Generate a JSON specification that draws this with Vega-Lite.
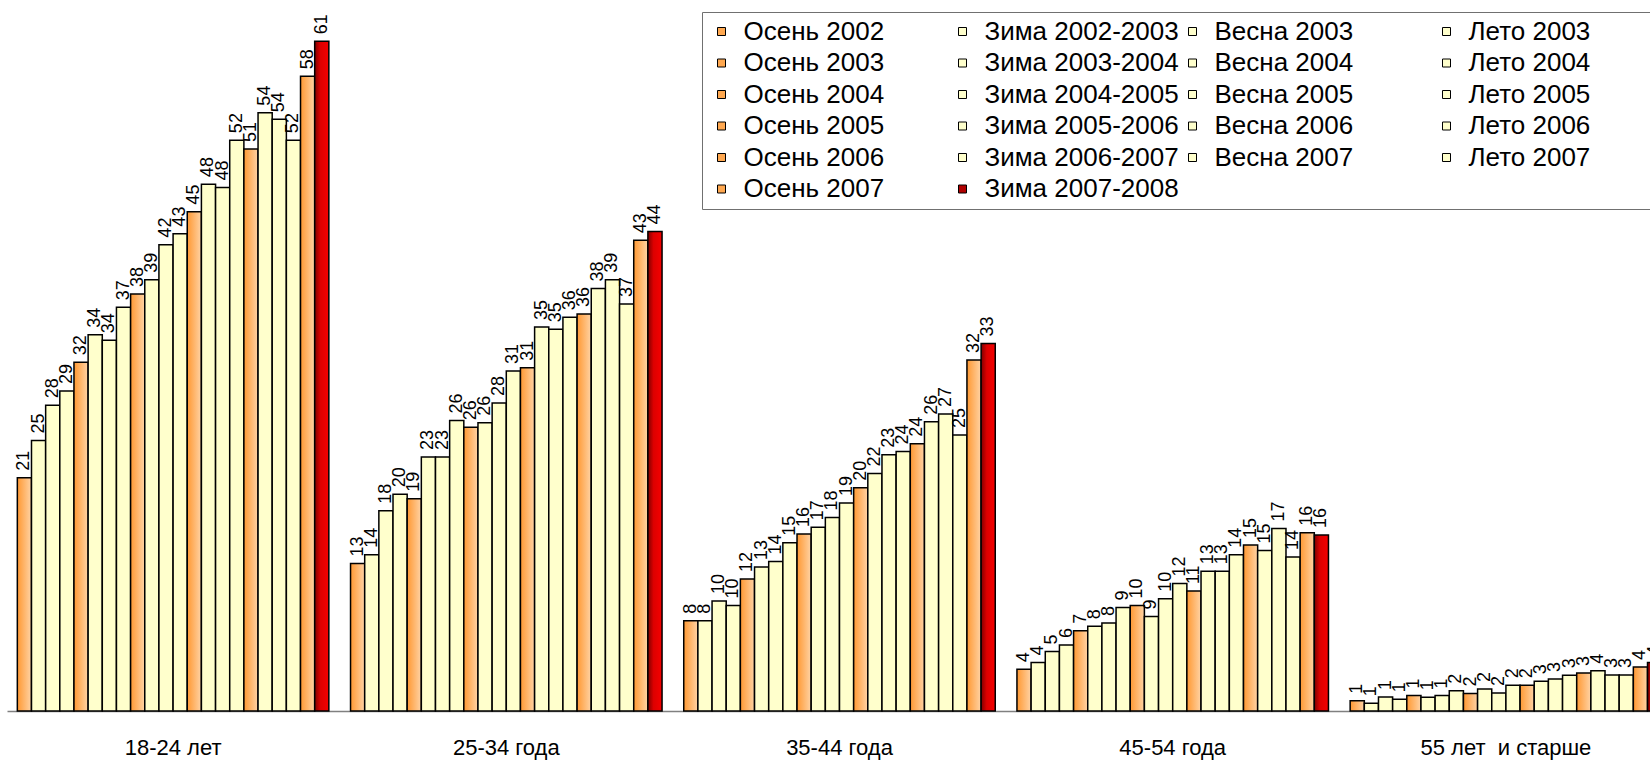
{
  "$schema": "https://vega.github.io/schema/vega-lite/v6.json",
  "width": 1643,
  "height": 711,
  "autosize": {"type": "none"},
  "padding": {"left": 7, "top": 0, "right": 0, "bottom": 49},
  "background": "white",
  "config": {"view": {"stroke": null}, "font": "Liberation Sans"},
  "data": {"values": [
    {"group": "18-24 лет", "series": "Осень 2002", "value": 21.2},
    {"group": "18-24 лет", "series": "Зима 2002-2003", "value": 24.6},
    {"group": "18-24 лет", "series": "Весна 2003", "value": 27.8},
    {"group": "18-24 лет", "series": "Лето 2003", "value": 29.1},
    {"group": "18-24 лет", "series": "Осень 2003", "value": 31.7},
    {"group": "18-24 лет", "series": "Зима 2003-2004", "value": 34.2},
    {"group": "18-24 лет", "series": "Весна 2004", "value": 33.7},
    {"group": "18-24 лет", "series": "Лето 2004", "value": 36.7},
    {"group": "18-24 лет", "series": "Осень 2004", "value": 37.9},
    {"group": "18-24 лет", "series": "Зима 2004-2005", "value": 39.2},
    {"group": "18-24 лет", "series": "Весна 2005", "value": 42.4},
    {"group": "18-24 лет", "series": "Лето 2005", "value": 43.4},
    {"group": "18-24 лет", "series": "Осень 2005", "value": 45.4},
    {"group": "18-24 лет", "series": "Зима 2005-2006", "value": 47.9},
    {"group": "18-24 лет", "series": "Весна 2006", "value": 47.6},
    {"group": "18-24 лет", "series": "Лето 2006", "value": 51.9},
    {"group": "18-24 лет", "series": "Осень 2006", "value": 51.1},
    {"group": "18-24 лет", "series": "Зима 2006-2007", "value": 54.4},
    {"group": "18-24 лет", "series": "Весна 2007", "value": 53.8},
    {"group": "18-24 лет", "series": "Лето 2007", "value": 51.9},
    {"group": "18-24 лет", "series": "Осень 2007", "value": 57.7},
    {"group": "18-24 лет", "series": "Зима 2007-2008", "value": 60.9},

    {"group": "25-34 года", "series": "Осень 2002", "value": 13.4},
    {"group": "25-34 года", "series": "Зима 2002-2003", "value": 14.2},
    {"group": "25-34 года", "series": "Весна 2003", "value": 18.2},
    {"group": "25-34 года", "series": "Лето 2003", "value": 19.7},
    {"group": "25-34 года", "series": "Осень 2003", "value": 19.3},
    {"group": "25-34 года", "series": "Зима 2003-2004", "value": 23.1},
    {"group": "25-34 года", "series": "Весна 2004", "value": 23.1},
    {"group": "25-34 года", "series": "Лето 2004", "value": 26.4},
    {"group": "25-34 года", "series": "Осень 2004", "value": 25.8},
    {"group": "25-34 года", "series": "Зима 2004-2005", "value": 26.2},
    {"group": "25-34 года", "series": "Весна 2005", "value": 28.0},
    {"group": "25-34 года", "series": "Лето 2005", "value": 30.9},
    {"group": "25-34 года", "series": "Осень 2005", "value": 31.2},
    {"group": "25-34 года", "series": "Зима 2005-2006", "value": 34.9},
    {"group": "25-34 года", "series": "Весна 2006", "value": 34.7},
    {"group": "25-34 года", "series": "Лето 2006", "value": 35.8},
    {"group": "25-34 года", "series": "Осень 2006", "value": 36.1},
    {"group": "25-34 года", "series": "Зима 2006-2007", "value": 38.4},
    {"group": "25-34 года", "series": "Весна 2007", "value": 39.2},
    {"group": "25-34 года", "series": "Лето 2007", "value": 37.0},
    {"group": "25-34 года", "series": "Осень 2007", "value": 42.8},
    {"group": "25-34 года", "series": "Зима 2007-2008", "value": 43.6},

    {"group": "35-44 года", "series": "Осень 2002", "value": 8.2},
    {"group": "35-44 года", "series": "Зима 2002-2003", "value": 8.2},
    {"group": "35-44 года", "series": "Весна 2003", "value": 10.0},
    {"group": "35-44 года", "series": "Лето 2003", "value": 9.6},
    {"group": "35-44 года", "series": "Осень 2003", "value": 12.0},
    {"group": "35-44 года", "series": "Зима 2003-2004", "value": 13.1},
    {"group": "35-44 года", "series": "Весна 2004", "value": 13.6},
    {"group": "35-44 года", "series": "Лето 2004", "value": 15.3},
    {"group": "35-44 года", "series": "Осень 2004", "value": 16.1},
    {"group": "35-44 года", "series": "Зима 2004-2005", "value": 16.7},
    {"group": "35-44 года", "series": "Весна 2005", "value": 17.6},
    {"group": "35-44 года", "series": "Лето 2005", "value": 18.9},
    {"group": "35-44 года", "series": "Осень 2005", "value": 20.3},
    {"group": "35-44 года", "series": "Зима 2005-2006", "value": 21.6},
    {"group": "35-44 года", "series": "Весна 2006", "value": 23.3},
    {"group": "35-44 года", "series": "Лето 2006", "value": 23.6},
    {"group": "35-44 года", "series": "Осень 2006", "value": 24.3},
    {"group": "35-44 года", "series": "Зима 2006-2007", "value": 26.3},
    {"group": "35-44 года", "series": "Весна 2007", "value": 27.0},
    {"group": "35-44 года", "series": "Лето 2007", "value": 25.1},
    {"group": "35-44 года", "series": "Осень 2007", "value": 31.9},
    {"group": "35-44 года", "series": "Зима 2007-2008", "value": 33.4},

    {"group": "45-54 года", "series": "Осень 2002", "value": 3.8},
    {"group": "45-54 года", "series": "Зима 2002-2003", "value": 4.4},
    {"group": "45-54 года", "series": "Весна 2003", "value": 5.4},
    {"group": "45-54 года", "series": "Лето 2003", "value": 6.0},
    {"group": "45-54 года", "series": "Осень 2003", "value": 7.3},
    {"group": "45-54 года", "series": "Зима 2003-2004", "value": 7.7},
    {"group": "45-54 года", "series": "Весна 2004", "value": 8.0},
    {"group": "45-54 года", "series": "Лето 2004", "value": 9.4},
    {"group": "45-54 года", "series": "Осень 2004", "value": 9.6},
    {"group": "45-54 года", "series": "Зима 2004-2005", "value": 8.6},
    {"group": "45-54 года", "series": "Весна 2005", "value": 10.2},
    {"group": "45-54 года", "series": "Лето 2005", "value": 11.6},
    {"group": "45-54 года", "series": "Осень 2005", "value": 10.9},
    {"group": "45-54 года", "series": "Зима 2005-2006", "value": 12.7},
    {"group": "45-54 года", "series": "Весна 2006", "value": 12.7},
    {"group": "45-54 года", "series": "Лето 2006", "value": 14.2},
    {"group": "45-54 года", "series": "Осень 2006", "value": 15.1},
    {"group": "45-54 года", "series": "Зима 2006-2007", "value": 14.6},
    {"group": "45-54 года", "series": "Весна 2007", "value": 16.6},
    {"group": "45-54 года", "series": "Лето 2007", "value": 14.0},
    {"group": "45-54 года", "series": "Осень 2007", "value": 16.2},
    {"group": "45-54 года", "series": "Зима 2007-2008", "value": 16.0},

    {"group": "55 лет \u00a0и старше", "series": "Осень 2002", "value": 0.94},
    {"group": "55 лет \u00a0и старше", "series": "Зима 2002-2003", "value": 0.7},
    {"group": "55 лет \u00a0и старше", "series": "Весна 2003", "value": 1.27},
    {"group": "55 лет \u00a0и старше", "series": "Лето 2003", "value": 1.06},
    {"group": "55 лет \u00a0и старше", "series": "Осень 2003", "value": 1.42},
    {"group": "55 лет \u00a0и старше", "series": "Зима 2003-2004", "value": 1.24},
    {"group": "55 лет \u00a0и старше", "series": "Весна 2004", "value": 1.42},
    {"group": "55 лет \u00a0и старше", "series": "Лето 2004", "value": 1.85},
    {"group": "55 лет \u00a0и старше", "series": "Осень 2004", "value": 1.6},
    {"group": "55 лет \u00a0и старше", "series": "Зима 2004-2005", "value": 2.0},
    {"group": "55 лет \u00a0и старше", "series": "Весна 2005", "value": 1.63},
    {"group": "55 лет \u00a0и старше", "series": "Лето 2005", "value": 2.33},
    {"group": "55 лет \u00a0и старше", "series": "Осень 2005", "value": 2.33},
    {"group": "55 лет \u00a0и старше", "series": "Зима 2005-2006", "value": 2.7},
    {"group": "55 лет \u00a0и старше", "series": "Весна 2006", "value": 2.9},
    {"group": "55 лет \u00a0и старше", "series": "Лето 2006", "value": 3.24},
    {"group": "55 лет \u00a0и старше", "series": "Осень 2006", "value": 3.45},
    {"group": "55 лет \u00a0и старше", "series": "Зима 2006-2007", "value": 3.66},
    {"group": "55 лет \u00a0и старше", "series": "Весна 2007", "value": 3.27},
    {"group": "55 лет \u00a0и старше", "series": "Лето 2007", "value": 3.27},
    {"group": "55 лет \u00a0и старше", "series": "Осень 2007", "value": 4.0},
    {"group": "55 лет \u00a0и старше", "series": "Зима 2007-2008", "value": 4.4}
  ]},
  "encoding": {
    "x": {
      "field": "group", "type": "nominal",
      "sort": ["18-24 лет", "25-34 года", "35-44 года", "45-54 года", "55 лет \u00a0и старше"],
      "scale": {"range": [0, 1665], "paddingInner": 0.0651, "paddingOuter": 0.031},
      "axis": {"title": null, "ticks": false, "grid": false, "domainColor": "#808080", "domainWidth": 1.5, "labelFontSize": 22, "labelColor": "black", "labelPadding": 26, "labelAngle": 0, "labelFont": "Liberation Sans"}
    },
    "xOffset": {
      "field": "series", "type": "nominal",
      "sort": ["Осень 2002","Зима 2002-2003","Весна 2003","Лето 2003","Осень 2003","Зима 2003-2004","Весна 2004","Лето 2004","Осень 2004","Зима 2004-2005","Весна 2005","Лето 2005","Осень 2005","Зима 2005-2006","Весна 2006","Лето 2006","Осень 2006","Зима 2006-2007","Весна 2007","Лето 2007","Осень 2007","Зима 2007-2008"],
      "scale": {"paddingInner": 0, "paddingOuter": 0}
    },
    "y": {"field": "value", "type": "quantitative", "scale": {"domain": [0, 64.64], "nice": false}, "axis": null}
  },
  "layer": [
    {
      "mark": {"type": "bar", "stroke": "black", "strokeWidth": 1.5, "opacity": 1},
      "encoding": {
        "color": {
          "condition": [
            {"test": "datum.series === 'Зима 2007-2008'", "value": {"gradient": "linear", "x1": 0, "y1": 0, "x2": 1, "y2": 0, "stops": [{"offset": 0, "color": "#800000"}, {"offset": 0.4, "color": "#DD0000"}, {"offset": 1, "color": "#F50000"}]}},
            {"test": "indexof(datum.series, 'Осень') === 0", "value": {"gradient": "linear", "x1": 0, "y1": 0, "x2": 1, "y2": 0, "stops": [{"offset": 0, "color": "#FF9933"}, {"offset": 1, "color": "#FFD3A5"}]}}
          ],
          "field": "series", "type": "nominal",
          "scale": {
            "domain": ["Осень 2002","Зима 2002-2003","Весна 2003","Лето 2003","Осень 2003","Зима 2003-2004","Весна 2004","Лето 2004","Осень 2004","Зима 2004-2005","Весна 2005","Лето 2005","Осень 2005","Зима 2005-2006","Весна 2006","Лето 2006","Осень 2006","Зима 2006-2007","Весна 2007","Лето 2007","Осень 2007","Зима 2007-2008"],
            "range": ["#FFA850","#FFFFCC","#FFFFCC","#FFFFCC","#FFA850","#FFFFCC","#FFFFCC","#FFFFCC","#FFA850","#FFFFCC","#FFFFCC","#FFFFCC","#FFA850","#FFFFCC","#FFFFCC","#FFFFCC","#FFA850","#FFFFCC","#FFFFCC","#FFFFCC","#FFA850","#B00000"]
          },
          "legend": {
            "title": null, "orient": "none", "legendX": 695, "legendY": 12, "direction": "horizontal",
            "columns": 4, "gridAlign": "each", "columnPadding": 0, "rowPadding": 5.5, "padding": 6.5,
            "symbolType": "square", "symbolSize": 64, "symbolStrokeColor": "black", "symbolStrokeWidth": 1, "symbolOffset": 0, "symbolOpacity": 1,
            "labelFontSize": 26, "labelFont": "Liberation Sans", "labelColor": "black", "labelOffset": 9, "labelLimit": 600,
            "labelExpr": "indexof(datum.label, 'Осень') === 0 ? datum.label + '\u00a0\u00a0\u00a0\u00a0\u00a0\u00a0\u00a0\u00a0\u00a0\u200b' : indexof(datum.label, 'Весна') === 0 ? datum.label + '\u00a0\u00a0\u00a0\u00a0\u00a0\u00a0\u00a0\u00a0\u00a0\u00a0\u00a0\u200b' : indexof(datum.label, 'Лето') === 0 ? datum.label + '\u00a0\u00a0\u00a0\u00a0\u00a0\u00a0\u00a0\u00a0\u200b' : datum.label",
            "strokeColor": "#707070", "fillColor": "white",
            "encode": {"symbols": {"update": {
              "fill": [
                {"test": "indexof(datum.value, 'Осень') === 0", "value": {"gradient": "linear", "x1": 0, "y1": 0, "x2": 1, "y2": 0, "stops": [{"offset": 0, "color": "#FF9933"}, {"offset": 1, "color": "#FFD3A5"}]}},
                {"scale": "color", "field": "value"}
              ],
              "stroke": {"value": "black"},
              "strokeWidth": {"value": 1},
              "opacity": {"value": 1}
            }}}
          }
        }
      }
    },
    {
      "mark": {"type": "text", "angle": 270, "align": "left", "baseline": "middle", "dx": 7, "fontSize": 18, "color": "black", "font": "Liberation Sans"},
      "encoding": {"text": {"field": "value", "type": "quantitative", "format": ".0f"}}
    }
  ]
}
